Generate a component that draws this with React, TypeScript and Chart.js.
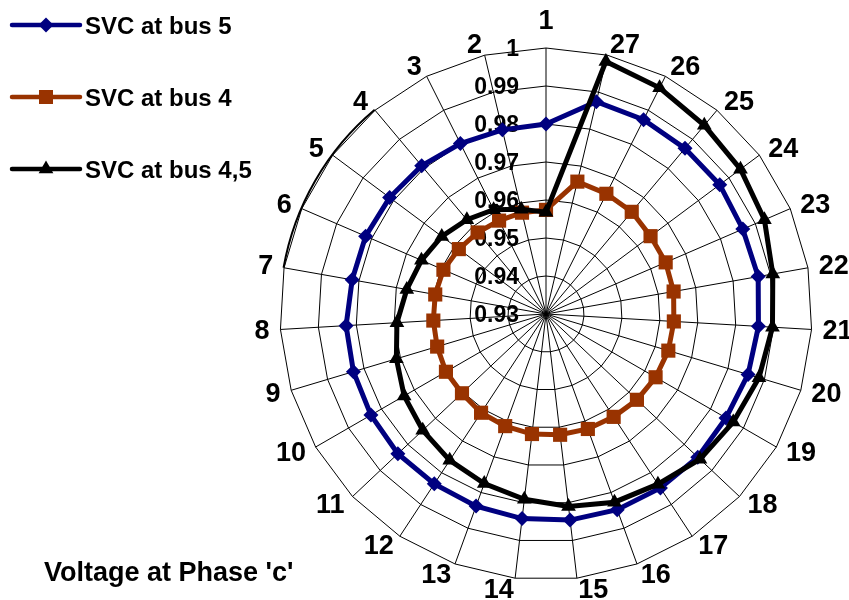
import React, { useEffect, useRef } from "react";
import { Chart, registerables } from "chart.js";

Chart.register(...registerables);

// Categories (bus numbers), counter-clockwise from the top in the reference
const categories = [
  "1", "2", "3", "4", "5", "6", "7", "8", "9", "10", "11", "12", "13", "14",
  "15", "16", "17", "18", "19", "20", "21", "22", "23", "24", "25", "26", "27",
];

const seriesNames = ["SVC at bus 5", "SVC at bus 4", "SVC at bus 4,5"];

const svcBus5 = [
  0.98, 0.9798, 0.9802, 0.9809, 0.9813, 0.9817, 0.9818, 0.9827, 0.9829, 0.9832,
  0.9836, 0.9835, 0.9838, 0.9842, 0.9846, 0.9848, 0.9848, 0.9849, 0.9847, 0.9855,
  0.986, 0.9867, 0.9864, 0.987, 0.9869, 0.9872, 0.9874,
];

const svcBus4 = [
  0.9574, 0.9574, 0.9575, 0.958, 0.9586, 0.9594, 0.9596, 0.9597, 0.9599, 0.9604,
  0.9604, 0.9611, 0.9614, 0.9618, 0.962, 0.9622, 0.9624, 0.9629, 0.9633, 0.9636,
  0.9637, 0.9641, 0.9643, 0.9643, 0.9651, 0.9654, 0.9658,
];

const svcBus45 = [
  0.9568, 0.9583, 0.9607, 0.9624, 0.9642, 0.9657, 0.9672, 0.9693, 0.9711, 0.9731,
  0.9746, 0.9761, 0.9775, 0.9791, 0.981, 0.9827, 0.9836, 0.9857, 0.9869, 0.9885,
  0.9897, 0.9906, 0.9926, 0.9938, 0.9948, 0.9966, 0.9983,
];

const tickValues = [0.93, 0.94, 0.95, 0.96, 0.97, 0.98, 0.99, 1.0];
const tickLabels = ["0.93", "0.94", "0.95", "0.96", "0.97", "0.98", "0.99", "1"];

const chartTitle = "Voltage at Phase 'c'";

const colors = ["#000080", "#993300", "#000000"];
const markers = ["rectRot", "rect", "triangle"];

// Chart.js runs clockwise; the reference runs counter-clockwise, so reorder 1, 27, 26, ..., 2
const reorder = <T,>(arr: T[]): T[] => [arr[0], ...arr.slice(1).reverse()];

const FONT = "'Liberation Sans', Arial, Helvetica, sans-serif";

function drawMarker(ctx: CanvasRenderingContext2D, kind: string, x: number, y: number) {
  ctx.beginPath();
  if (kind === "rectRot") {
    const r = 7.5;
    ctx.moveTo(x, y - r);
    ctx.lineTo(x + r, y);
    ctx.lineTo(x, y + r);
    ctx.lineTo(x - r, y);
  } else if (kind === "rect") {
    const s = 7;
    ctx.rect(x - s, y - s, 2 * s, 2 * s);
  } else {
    const r = 8.5;
    ctx.moveTo(x, y - r);
    ctx.lineTo(x + r * 0.866, y + r * 0.5);
    ctx.lineTo(x - r * 0.866, y + r * 0.5);
  }
  ctx.closePath();
  ctx.fill();
}

const decorPlugin = {
  id: "decor",
  beforeDatasetsDraw(chart: any) {
    const scale = chart.scales.r;
    const ctx: CanvasRenderingContext2D = chart.ctx;
    const xc = scale.xCenter;
    const yc = scale.yCenter;
    const R = scale.drawingArea;
    ctx.save();
    // thicker outer arc segment on the left
    ctx.strokeStyle = "#000";
    ctx.lineWidth = 2;
    ctx.beginPath();
    ctx.arc(xc, yc, R + 0.5, (190 * Math.PI) / 180, (230 * Math.PI) / 180);
    ctx.stroke();

    // value tick labels, left of the vertical axis
    ctx.fillStyle = "#000";
    ctx.font = `bold 23px ${FONT}`;
    ctx.textAlign = "right";
    ctx.textBaseline = "middle";
    tickValues.forEach((v, i) => {
      const d = scale.getDistanceFromCenterForValue(v);
      ctx.fillText(tickLabels[i], xc - 27, yc - d + 2);
    });

    // category labels around the outside
    ctx.font = `bold 27px ${FONT}`;
    (chart.data.labels as string[]).forEach((lab, i) => {
      const a = scale.getIndexAngle(i);
      const s = Math.sin(a);
      if (Math.abs(s) < 0.01 && Math.cos(a) > 0) {
        const p = scale.getPointPosition(i, R + 26);
        ctx.textAlign = "center";
        ctx.fillText(lab, p.x, p.y);
        return;
      }
      const p = scale.getPointPosition(i, R + 11);
      ctx.textAlign = s > 0 ? "left" : "right";
      ctx.fillText(lab, p.x, p.y + 1);
    });
    ctx.restore();
  },
  afterDraw(chart: any) {
    const ctx: CanvasRenderingContext2D = chart.ctx;
    ctx.save();
    const legendY = [25, 97, 169];
    seriesNames.forEach((name, i) => {
      const y = legendY[i];
      ctx.strokeStyle = colors[i];
      ctx.fillStyle = colors[i];
      ctx.lineWidth = 4.5;
      ctx.lineCap = "round";
      ctx.beginPath();
      ctx.moveTo(12, y);
      ctx.lineTo(80, y);
      ctx.stroke();
      drawMarker(ctx, markers[i], 46, y);
      ctx.fillStyle = "#000";
      ctx.font = `bold 24px ${FONT}`;
      ctx.textAlign = "left";
      ctx.textBaseline = "alphabetic";
      ctx.fillText(name, 85, y + 9);
    });
    ctx.font = `bold 27px ${FONT}`;
    ctx.fillStyle = "#000";
    ctx.textAlign = "left";
    ctx.textBaseline = "alphabetic";
    ctx.fillText(chartTitle, 44, 581);
    ctx.restore();
  },
};

export default function App() {
  const canvasRef = useRef<HTMLCanvasElement | null>(null);

  useEffect(() => {
    const canvas = canvasRef.current;
    if (!canvas) return;
    const series = [svcBus5, svcBus4, svcBus45];
    const chart = new Chart(canvas, {
      type: "radar",
      data: {
        labels: reorder(categories),
        datasets: series.map((vals, i) => ({
          label: seriesNames[i],
          data: reorder(vals),
          borderColor: colors[i],
          backgroundColor: colors[i],
          pointBackgroundColor: colors[i],
          pointBorderColor: colors[i],
          pointBorderWidth: 0,
          borderWidth: 5,
          pointStyle: markers[i] as any,
          pointRadius: i === 0 ? 7.5 : i === 1 ? 10 : 8.5,
          fill: false,
          tension: 0,
          order: 2 - i,
        })),
      },
      options: {
        responsive: false,
        animation: false,
        events: [],
        layout: { padding: { left: 280, top: 48, right: 37, bottom: 20 } },
        plugins: {
          legend: { display: false },
          title: { display: false },
          tooltip: { enabled: false },
        },
        scales: {
          r: {
            min: 0.93,
            max: 1.0,
            beginAtZero: false,
            ticks: { display: false, stepSize: 0.01 },
            grid: { color: "#000", lineWidth: 1, circular: false },
            angleLines: { color: "#000", lineWidth: 1 },
            pointLabels: { display: false },
          },
        },
      },
      plugins: [decorPlugin],
    });
    return () => chart.destroy();
  }, []);

  return (
    <div style={{ position: "absolute", left: 0, top: 0, width: 849, height: 600, background: "#fff" }}>
      <canvas ref={canvasRef} width={849} height={600} style={{ display: "block" }} />
    </div>
  );
}
